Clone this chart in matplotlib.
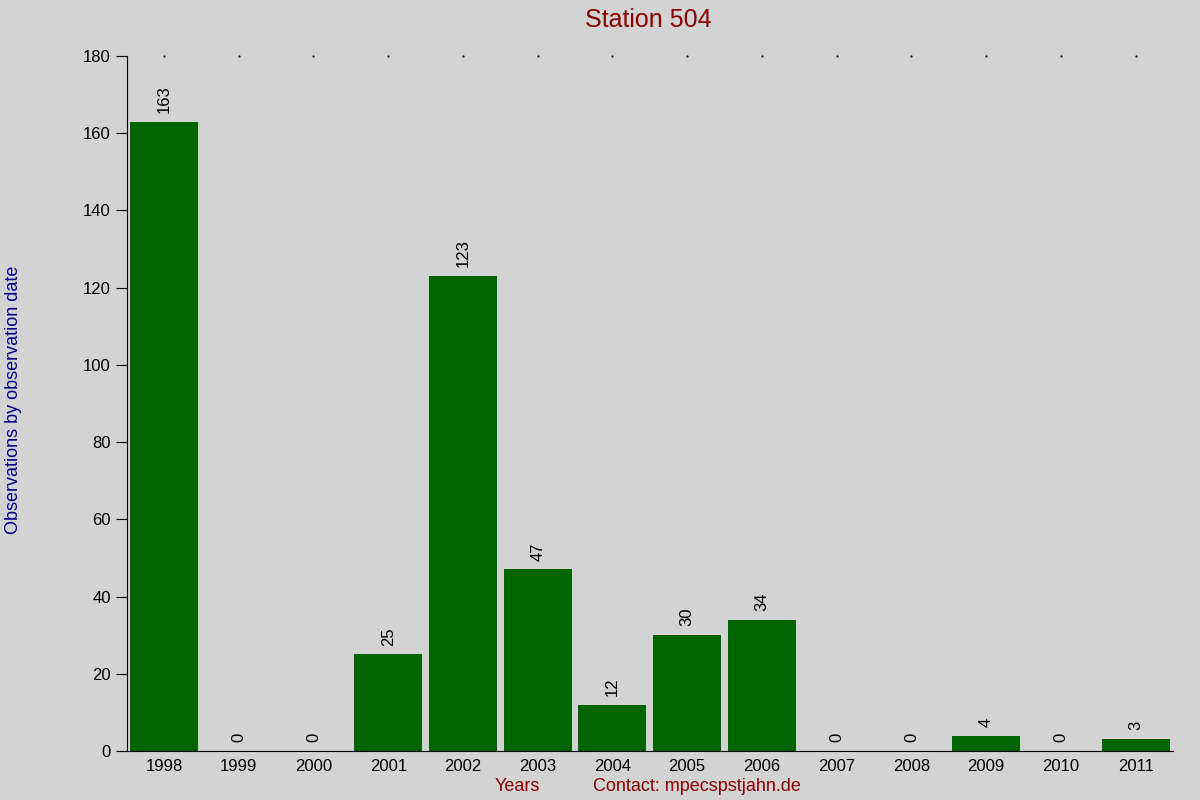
import numpy as np
import matplotlib.pyplot as plt

plt.rcParams['font.family'] = ['Liberation Sans', 'DejaVu Sans']

# data
years = ['1998', '1999', '2000', '2001', '2002', '2003', '2004',
         '2005', '2006', '2007', '2008', '2009', '2010', '2011']
counts = [163, 0, 0, 25, 123, 47, 12, 30, 34, 0, 0, 4, 0, 3]

bg = '#d3d3d3'
fig = plt.figure(figsize=(12, 8), dpi=100, facecolor=bg)
ax = fig.add_axes([0.1055, 0.0613, 0.872, 0.8687], facecolor=bg)

x = np.arange(len(years))
bars = ax.bar(x, counts, width=0.91, color='#006400')

# rotated value labels above bars
for xi, v in zip(x, counts):
    ax.text(xi, v + 2.3, str(v), rotation=90, ha='center', va='bottom', fontsize=12)

# small dots along the top
ax.scatter(x, [180] * len(x), s=0.3, color='black', clip_on=False)

ax.set_xlim(-0.5, len(years) - 0.5)
ax.set_ylim(0, 180)
ax.set_yticks(range(0, 181, 20))
ax.set_xticks(x)
ax.set_xticklabels(years, fontsize=12)
ax.tick_params(axis='x', length=0, pad=6)
ax.tick_params(axis='y', labelsize=12, length=8, direction='out')
ax.spines['top'].set_visible(False)
ax.spines['right'].set_visible(False)

fig.text(0.54, 0.975, 'Station 504', color='#8b0000', fontsize=18, ha='center', va='center')
fig.text(0.0115, 0.5, 'Observations by observation date', color='#00008b', fontsize=13,
         rotation=90, ha='center', va='center')
fig.text(0.431, 0.017, 'Years', color='#8b0000', fontsize=13, ha='center', va='center')
fig.text(0.581, 0.017, 'Contact: mpecspstjahn.de', color='#8b0000', fontsize=13,
         ha='center', va='center')

fig.savefig('out.png', dpi=100, facecolor=bg)
